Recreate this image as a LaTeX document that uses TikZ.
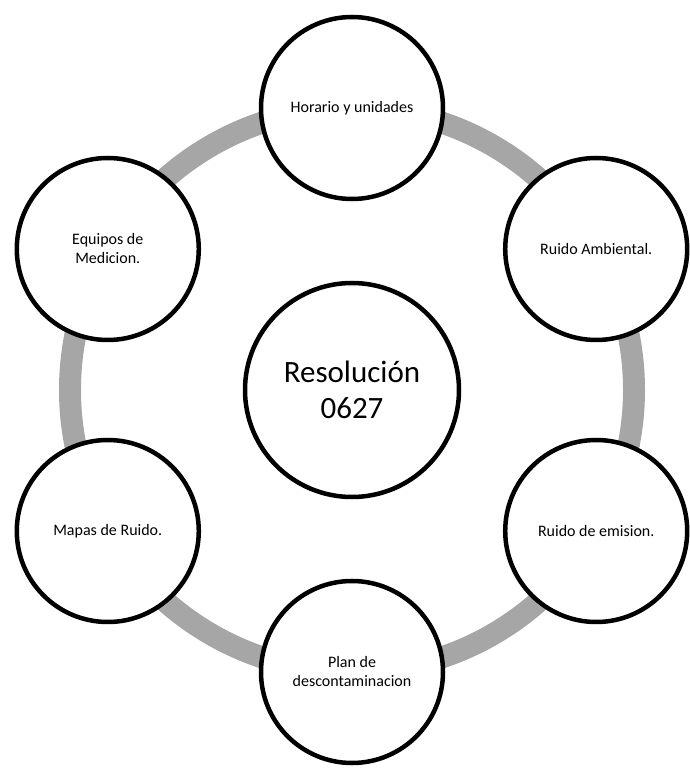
\documentclass[tikz,border=0pt]{standalone}
\usepackage{fontspec}
\setmainfont{Carlito}
\usetikzlibrary{calc}
\definecolor{ringgray}{HTML}{A6A6A6}

\begin{document}
\begin{tikzpicture}[x=1pt, y=1pt, every node/.style={font=\fontsize{16}{19}\selectfont},
			hub/.style={draw, circle, line width=4.5pt, fill=white, minimum size=214pt, align=center, font=\fontsize{31}{36}\selectfont},
			sat/.style={draw, circle, line width=4.5pt, fill=white, minimum size=182pt, inner sep=0pt, align=center}]
			\useasboundingbox (0,0) rectangle (690,769);
			\coordinate (o) at (352,379);
			\draw[line width=22pt, ringgray] (o) circle[radius=282pt];
			\node[hub] (res) at (o) {Resolución\\0627};
			\foreach \a/\n/\t in {90/hor/{Horario y unidades}, 30/amb/{Ruido Ambiental.}, -30/emi/{Ruido de emision.},
				-90/pla/{Plan de\\descontaminacion}, 210/map/{Mapas de Ruido.}, 150/equ/{Equipos de\\Medicion.}}
				\node[sat] (\n) at ($(o)+(\a:282pt)$) {\t};
		\end{tikzpicture}
\end{document}
